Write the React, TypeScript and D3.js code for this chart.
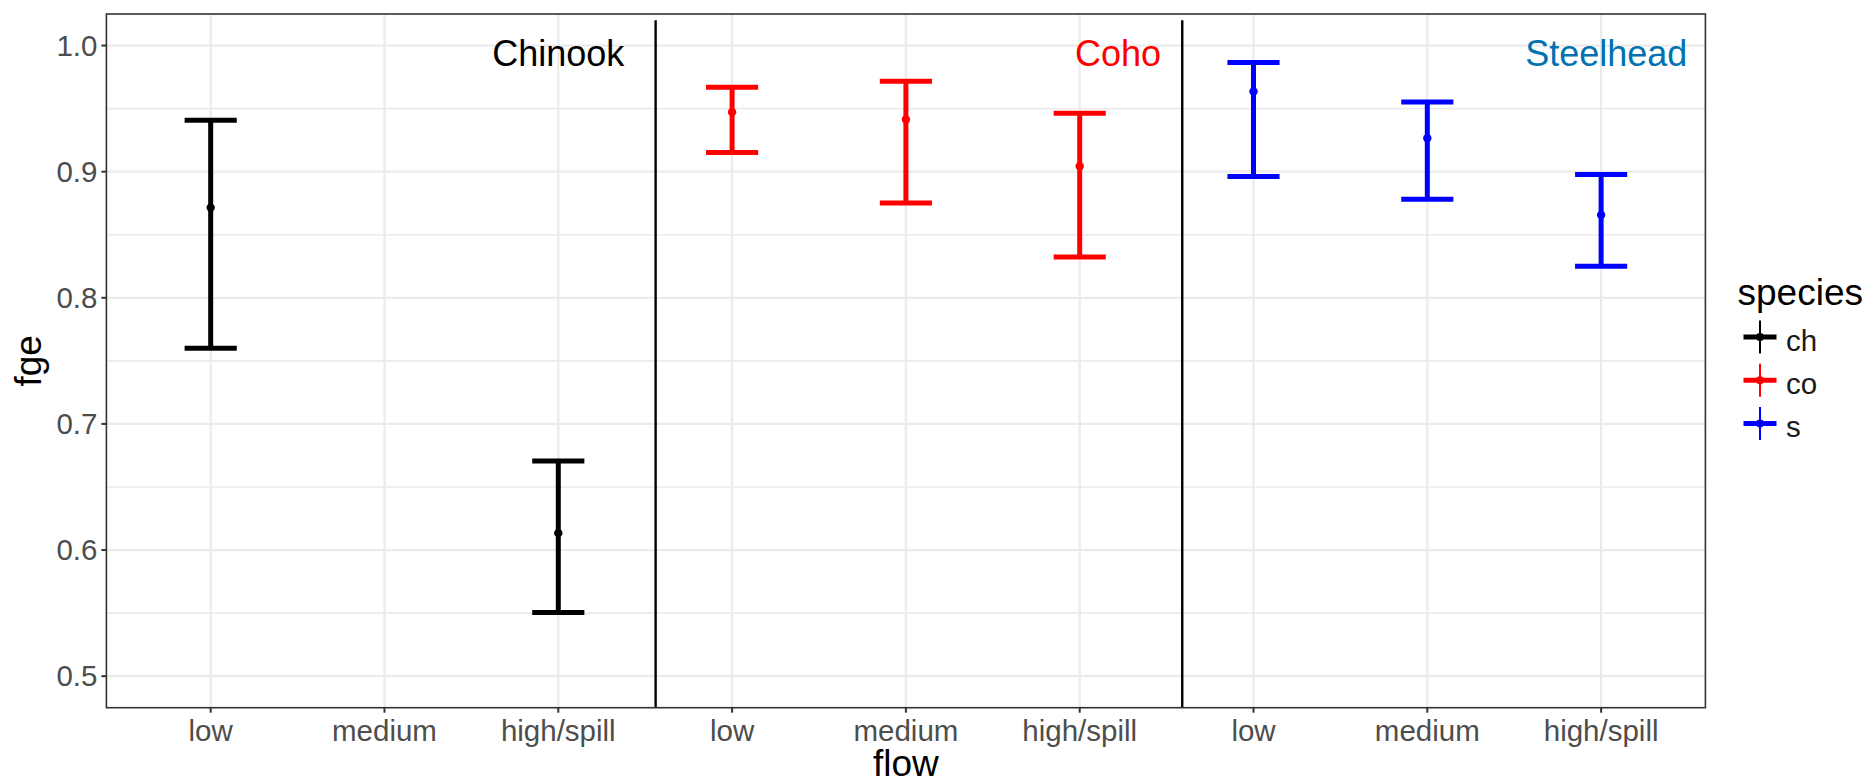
import React from "react";
import * as d3 from "d3";

const flowLevels = ["low", "medium", "high/spill"];
const speciesKeys = ["ch", "co", "s"];
const speciesColors = ["#000000", "#FF0000", "#0000FF"];
const speciesNames = ["Chinook", "Coho", "Steelhead"];
const nameColors = ["#000000", "#FF0000", "#0072B2"];
const nameX = [3.0, 6.22, 9.03];

const chMean = [0.8715, null, 0.6134];
const chLower = [0.76, null, 0.5505];
const chUpper = [0.9408, null, 0.6706];
const coMean = [0.9472, 0.9413, 0.9043];
const coLower = [0.9151, 0.8752, 0.8324];
const coUpper = [0.967, 0.9717, 0.9464];
const sMean = [0.9635, 0.9265, 0.8657];
const sLower = [0.8961, 0.8782, 0.825];
const sUpper = [0.9865, 0.9553, 0.8977];

const yTicks = [0.5, 0.6, 0.7, 0.8, 0.9, 1.0];
const yMinor = [0.55, 0.65, 0.75, 0.85, 0.95];
const separators = [3.56, 6.59];
const separatorTop = 1.02;

const W = 1868;
const H = 784;
const FONT = "'Liberation Sans', Arial, Helvetica, sans-serif";

export default function App() {
  const left = 106.4;
  const right = 1705.4;
  const top = 14;
  const bottom = 707.7;
  const x = d3.scaleLinear().domain([0.4, 9.6]).range([left, right]);
  const y = d3.scaleLinear().domain([0.475, 1.025]).range([bottom, top]);

  const means = [chMean, coMean, sMean];
  const lowers = [chLower, coLower, sLower];
  const uppers = [chUpper, coUpper, sUpper];

  const rows: any[] = [];
  speciesKeys.forEach((sp, si) => {
    flowLevels.forEach((f, fi) => {
      const m = means[si][fi];
      if (m == null) return;
      rows.push({
        pos: si * 3 + fi + 1,
        mean: m,
        lo: lowers[si][fi] as number,
        hi: uppers[si][fi] as number,
        color: speciesColors[si],
      });
    });
  });

  const positions = d3.range(1, 10);
  const xLabels = speciesKeys.flatMap(() => flowLevels);
  const capHalf = x(1.15) - x(1);

  const legendX = 1760;
  const legendY0 = 337;
  const legendStep = 43.3;

  return (
    <svg
      width={W}
      height={H}
      style={{ position: "absolute", left: 0, top: 0, background: "#fff" }}
      fontFamily={FONT}
    >
      <rect x={0} y={0} width={W} height={H} fill="#fff" />
      {/* grid */}
      {yMinor.map((v) => (
        <line key={"ym" + v} x1={left} x2={right} y1={y(v)} y2={y(v)} stroke="#EBEBEB" strokeWidth={1.6} />
      ))}
      {yTicks.map((v) => (
        <line key={"yg" + v} x1={left} x2={right} y1={y(v)} y2={y(v)} stroke="#EBEBEB" strokeWidth={2.2} />
      ))}
      {positions.map((p) => (
        <line key={"xg" + p} x1={x(p)} x2={x(p)} y1={top} y2={bottom} stroke="#EBEBEB" strokeWidth={2.2} />
      ))}
      {/* separators */}
      {separators.map((s) => (
        <line key={"sep" + s} x1={x(s)} x2={x(s)} y1={y(separatorTop)} y2={bottom} stroke="#000" strokeWidth={2.4} />
      ))}
      {/* error bars */}
      {rows.map((r, i) => (
        <g key={"eb" + i} stroke={r.color} fill={r.color}>
          <line x1={x(r.pos)} x2={x(r.pos)} y1={y(r.hi)} y2={y(r.lo)} strokeWidth={5} />
          <line x1={x(r.pos) - capHalf} x2={x(r.pos) + capHalf} y1={y(r.hi)} y2={y(r.hi)} strokeWidth={5} />
          <line x1={x(r.pos) - capHalf} x2={x(r.pos) + capHalf} y1={y(r.lo)} y2={y(r.lo)} strokeWidth={5} />
          <circle cx={x(r.pos)} cy={y(r.mean)} r={4.2} stroke="none" />
        </g>
      ))}
      {/* species names */}
      {speciesNames.map((n, i) => (
        <text
          key={"nm" + n}
          x={x(nameX[i])}
          y={66}
          textAnchor="middle"
          fontSize={36}
          fill={nameColors[i]}
        >
          {n}
        </text>
      ))}
      {/* panel border */}
      <rect x={left} y={top} width={right - left} height={bottom - top} fill="none" stroke="#333333" strokeWidth={1.6} />
      {/* y axis */}
      {yTicks.map((v) => (
        <g key={"yt" + v}>
          <line x1={left - 5} x2={left} y1={y(v)} y2={y(v)} stroke="#333333" strokeWidth={2} />
          <text x={left - 9} y={y(v)} dy="0.35em" textAnchor="end" fontSize={29.5} fill="#4D4D4D">
            {d3.format(".1f")(v)}
          </text>
        </g>
      ))}
      {/* x axis */}
      {positions.map((p, i) => (
        <g key={"xt" + p}>
          <line x1={x(p)} x2={x(p)} y1={bottom} y2={bottom + 5} stroke="#333333" strokeWidth={2} />
          <text x={x(p)} y={741} textAnchor="middle" fontSize={29.5} fill="#4D4D4D">
            {xLabels[i]}
          </text>
        </g>
      ))}
      {/* axis titles */}
      <text x={(left + right) / 2} y={776} textAnchor="middle" fontSize={37} fill="#000">
        flow
      </text>
      <text
        transform={`translate(41,${(top + bottom) / 2}) rotate(-90)`}
        textAnchor="middle"
        fontSize={37}
        fill="#000"
      >
        fge
      </text>
      {/* legend */}
      <text x={1737.5} y={305} fontSize={37} fill="#000">
        species
      </text>
      {speciesKeys.map((k, i) => {
        const cy = legendY0 + i * legendStep;
        return (
          <g key={"lg" + k}>
            <line x1={legendX - 16.5} x2={legendX + 16.5} y1={cy} y2={cy} stroke={speciesColors[i]} strokeWidth={5} />
            <line x1={legendX} x2={legendX} y1={cy - 16.5} y2={cy + 16.5} stroke={speciesColors[i]} strokeWidth={2} />
            <circle cx={legendX} cy={cy} r={4} fill={speciesColors[i]} />
            <text x={1786} y={cy + 13.5} fontSize={29.5} fill="#1A1A1A">
              {k}
            </text>
          </g>
        );
      })}
    </svg>
  );
}
